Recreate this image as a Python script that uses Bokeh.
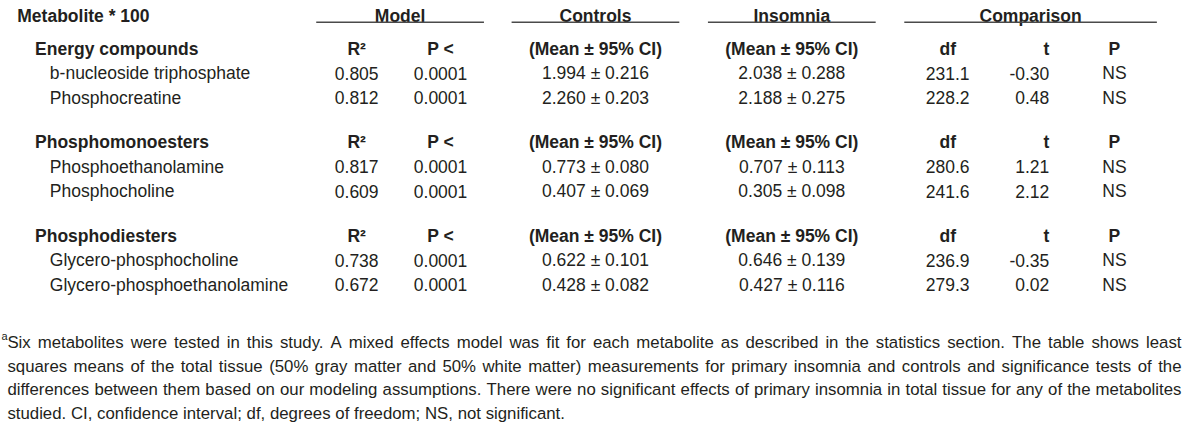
import glob
from bokeh.plotting import figure
from bokeh.models import Range1d, ColumnDataSource
from bokeh.core.properties import value
from bokeh.embed import file_html
from bokeh.resources import INLINE

# ---------------- data ----------------
title_col = "Metabolite * 100"
header_groups = ["Model", "Controls", "Insomnia", "Comparison"]
sub_headers = ["R²", "P <", "(Mean ± 95% CI)", "(Mean ± 95% CI)", "df", "t", "P"]
groups = ["Energy compounds", "Phosphomonoesters", "Phosphodiesters"]
metabolites = ["b-nucleoside triphosphate", "Phosphocreatine",
               "Phosphoethanolamine", "Phosphocholine",
               "Glycero-phosphocholine", "Glycero-phosphoethanolamine"]
group_index = [0, 0, 1, 1, 2, 2]
r2 = [0.805, 0.812, 0.817, 0.609, 0.738, 0.672]
p_model = ["0.0001", "0.0001", "0.0001", "0.0001", "0.0001", "0.0001"]
ctrl_mean = [1.994, 2.260, 0.773, 0.407, 0.622, 0.428]
ctrl_ci = [0.216, 0.203, 0.080, 0.069, 0.101, 0.082]
ins_mean = [2.038, 2.188, 0.707, 0.305, 0.646, 0.427]
ins_ci = [0.288, 0.275, 0.113, 0.098, 0.139, 0.116]
dof = [231.1, 228.2, 280.6, 241.6, 236.9, 279.3]
t_vals = [-0.30, 0.48, 1.21, 2.12, -0.35, 0.02]
p_cmp = ["NS", "NS", "NS", "NS", "NS", "NS"]
footnote_mark = "a"
footnote_lines = [
    "Six metabolites were tested in this study. A mixed effects model was fit for each metabolite as described in the statistics section. The table shows least",
    "squares means of the total tissue (50% gray matter and 50% white matter) measurements for primary insomnia and controls and significance tests of the",
    "differences between them based on our modeling assumptions. There were no significant effects of primary insomnia in total tissue for any of the metabolites",
    "studied. CI, confidence interval; df, degrees of freedom; NS, not significant.",
]

# ---------------- layout / style ----------------
W, H = 1184, 427
REF_W, REF_H = 1200, 452
SX = W / REF_W
INK = "#231f20"
FONT = "Liberation Sans"
BODY = 17.5


def find_font(name):
    for base in ["/usr/share/fonts", "/usr/local/share/fonts", "/root/.fonts"]:
        hits = glob.glob(base + "/**/" + name, recursive=True)
        if hits:
            return hits[0]
    return None


font_path = find_font("LiberationSans-Regular.ttf")
try:
    from PIL import ImageFont

    def measure(s, size):
        return ImageFont.truetype(font_path, size).getlength(s)
    measure("x", 10)
except Exception:
    def measure(s, size):
        return len(s) * 0.45 * size

p = figure(width=W, height=H, x_range=Range1d(0, REF_W), y_range=Range1d(REF_H, 0),
           output_backend="svg", toolbar_location=None, min_border=0,
           x_axis_type=None, y_axis_type=None)
p.grid.visible = False
p.outline_line_color = None
p.background_fill_color = "white"
p.border_fill_color = "white"


def txt(xs, ys, texts, size, align="left", bold=False):
    src = ColumnDataSource(dict(x=xs, y=ys, text=texts))
    p.text(x="x", y="y", text="text", source=src, text_font=value(FONT),
           text_font_size=value(f"{size}px"), text_align=align,
           text_baseline="alphabetic", text_color=INK,
           text_font_style="bold" if bold else "normal")


# column positions (reference pixels)
x_title, x_group, x_item = 17, 35, 50
x_head = [405, 603, 802, 1044]
x_sub = [361, 446, 603, 802, 960, 1063, 1129]
sub_align = ["center", "center", "center", "center", "center", "right", "center"]
spans = [(320, 490), (518, 688), (717, 887), (916, 1172)]
y_head, y_rule = 16, 23
y_group0, row_step, group_step = 51, 26, 99

# top header
txt([x_title], [y_head], [title_col], BODY, "left", True)
txt(x_head, [y_head] * 4, header_groups, BODY, "center", True)
p.segment(x0=[s[0] for s in spans], x1=[s[1] for s in spans],
          y0=[y_rule] * 4, y1=[y_rule] * 4, line_color="#4a4a4a", line_width=1.6)

# groups and sub-headers
for gi, g in enumerate(groups):
    yg = y_group0 + gi * group_step
    txt([x_group], [yg], [g], BODY, "left", True)
    for xs, al, lab in zip(x_sub, sub_align, sub_headers):
        txt([xs], [yg], [lab], BODY, al, True)

# data rows
row_y = []
count = {}
for i, gi in enumerate(group_index):
    k = count.get(gi, 0)
    count[gi] = k + 1
    row_y.append(y_group0 + gi * group_step + (k + 1) * row_step)

txt([x_item] * 6, row_y, metabolites, BODY, "left")
txt([x_sub[0]] * 6, row_y, [f"{v:.3f}" for v in r2], BODY, "center")
txt([x_sub[1]] * 6, row_y, p_model, BODY, "center")
txt([x_sub[2]] * 6, row_y, [f"{m:.3f} ± {c:.3f}" for m, c in zip(ctrl_mean, ctrl_ci)], BODY, "center")
txt([x_sub[3]] * 6, row_y, [f"{m:.3f} ± {c:.3f}" for m, c in zip(ins_mean, ins_ci)], BODY, "center")
txt([x_sub[4]] * 6, row_y, [f"{v:.1f}" for v in dof], BODY, "center")
txt([x_sub[5]] * 6, row_y, [f"{v:.2f}" for v in t_vals], BODY, "right")
txt([x_sub[6]] * 6, row_y, p_cmp, BODY, "center")

# footnote (justified, word by word)
note_left, note_right = 7, 1197
note_y = [362, 387, 412, 437]
avail_px = (note_right - note_left) * SX

# largest size (<= 17.6px) where every justified line still has normal word gaps
NOTE = 17.6
while NOTE > 12:
    ok = True
    for line in footnote_lines[:-1]:
        nat = measure(line, NOTE)
        if nat > avail_px * 0.995:
            ok = False
            break
    if ok:
        break
    NOTE = round(NOTE - 0.1, 1)

txt([1], [355], [footnote_mark], 11, "left")
fx, fy, ft = [], [], []
for li, line in enumerate(footnote_lines):
    words = line.split(" ")
    widths = [measure(w, NOTE) / SX for w in words]
    last = li == len(footnote_lines) - 1
    if last or len(words) < 2:
        gap = measure(" ", NOTE) / SX
    else:
        gap = (note_right - note_left - sum(widths)) / (len(words) - 1)
    x = note_left
    for w, wd in zip(words, widths):
        fx.append(x)
        fy.append(note_y[li])
        ft.append(w)
        x += wd + gap
txt(fx, fy, ft, NOTE, "left")

open("out.html", "w").write(file_html(p, INLINE))
